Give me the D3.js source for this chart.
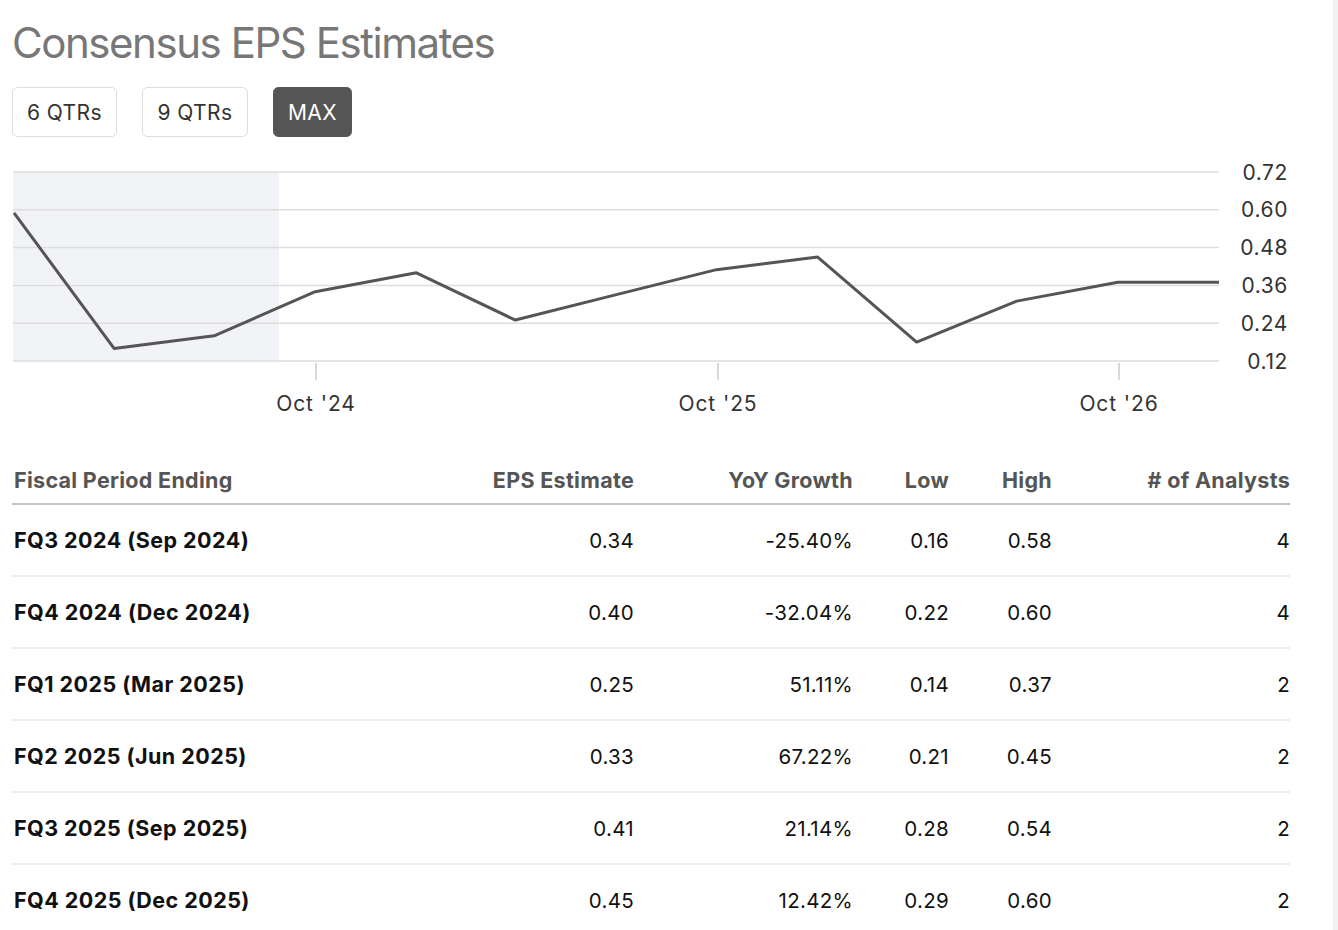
<!DOCTYPE html>
<html>
<head>
<meta charset="utf-8">
<script src="https://cdn.jsdelivr.net/npm/d3@7"></script>
<style>
  html, body { margin: 0; padding: 0; background: #fff; overflow: hidden; }
  svg { display: block; font-family: Inter, "Noto Sans", sans-serif; }
</style>
</head>
<body>
<div id="chart"></div>
<script>
// quarter-end dates plotted on the line
const quarterEnds = ["2023-12-31", "2024-03-31", "2024-06-30", "2024-09-30", "2024-12-31",
  "2025-03-31", "2025-06-30", "2025-09-30", "2025-12-31", "2026-03-31",
  "2026-06-30", "2026-09-30", "2026-12-31"];
const epsSeries = [0.59, 0.16, 0.20, 0.34, 0.40, 0.25, 0.33, 0.41, 0.45, 0.18, 0.31, 0.37, 0.37];
const reportedUntil = "2024-08-28";   // end of the shaded (already reported) zone
const yTicks = [0.12, 0.24, 0.36, 0.48, 0.60, 0.72];
const xTicks = ["2024-10-01", "2025-10-01", "2026-10-01"];
const rangeButtons = ["6 QTRs", "9 QTRs", "MAX"];

// table
const tableHeaders = ["Fiscal Period Ending", "EPS Estimate", "YoY Growth", "Low", "High", "# of Analysts"];
const fiscalPeriods = ["FQ3 2024 (Sep 2024)", "FQ4 2024 (Dec 2024)", "FQ1 2025 (Mar 2025)",
  "FQ2 2025 (Jun 2025)", "FQ3 2025 (Sep 2025)", "FQ4 2025 (Dec 2025)"];
const epsEstimates = ["0.34", "0.40", "0.25", "0.33", "0.41", "0.45"];
const yoyGrowth = ["-25.40%", "-32.04%", "51.11%", "67.22%", "21.14%", "12.42%"];
const lows = ["0.16", "0.22", "0.14", "0.21", "0.28", "0.29"];
const highs = ["0.58", "0.60", "0.37", "0.45", "0.54", "0.60"];
const analysts = ["4", "4", "2", "2", "2", "2"];

const W = 1338, H = 930;
const parse = d3.utcParse("%Y-%m-%d");

const svg = d3.select("#chart").append("svg")
    .attr("width", W)
    .attr("height", H);

// scrollbar strip on the right
svg.append("rect")
    .attr("x", 1333).attr("y", 0).attr("width", 5).attr("height", H)
    .attr("fill", "#f3f1ef");

// title
svg.append("text")
    .attr("x", 12).attr("y", 58)
    .attr("font-size", 42)
    .attr("fill", "#777")
    .attr("letter-spacing", -1.45)
    .text("Consensus EPS Estimates");

// range buttons
const btnX = [12.5, 142.5, 273.5], btnW = [104, 105, 78];
const btn = svg.selectAll("g.btn")
  .data(rangeButtons)
  .join("g")
    .attr("class", "btn")
    .attr("transform", (d, i) => `translate(${btnX[i]},87.5)`);

btn.append("rect")
    .attr("width", (d, i) => btnW[i])
    .attr("height", 49)
    .attr("rx", 5)
    .attr("fill", d => d === "MAX" ? "#555" : "#fff")
    .attr("stroke", d => d === "MAX" ? "#555" : "#ddd");

btn.append("text")
    .attr("x", (d, i) => btnW[i] / 2)
    .attr("y", 32)
    .attr("text-anchor", "middle")
    .attr("font-size", 21)
    .attr("letter-spacing", 0.4)
    .attr("fill", d => d === "MAX" ? "#fff" : "#333")
    .text(d => d);

// line chart
const x = d3.scaleUtc()
    .domain([parse(quarterEnds[0]), parse(quarterEnds[quarterEnds.length - 1])])
    .range([14, 1219]);

const y = d3.scaleLinear()
    .domain([0.12, 0.72])
    .range([361, 172]);

svg.append("rect")
    .attr("x", 13)
    .attr("y", y(0.72))
    .attr("width", x(parse(reportedUntil)) - 13)
    .attr("height", y(0.12) - y(0.72))
    .attr("fill", "#f2f3f7");

svg.append("g")
  .selectAll("line")
  .data(yTicks)
  .join("line")
    .attr("x1", 13).attr("x2", 1219)
    .attr("y1", d => y(d)).attr("y2", d => y(d))
    .attr("stroke", "#ddd")
    .attr("stroke-width", 1.5);

svg.append("g")
  .selectAll("text")
  .data(yTicks)
  .join("text")
    .attr("x", 1288)
    .attr("y", d => y(d) + 7.5)
    .attr("text-anchor", "end")
    .attr("font-size", 21)
    .attr("letter-spacing", 0.6)
    .attr("fill", "#333")
    .text(d => d3.format(".2f")(d));

const xt = svg.append("g")
  .selectAll("g")
  .data(xTicks.map(parse))
  .join("g")
    .attr("transform", d => `translate(${Math.round(x(d))},0)`);

xt.append("line")
    .attr("y1", 363).attr("y2", 380)
    .attr("stroke", "#ccc")
    .attr("stroke-width", 1.5);

xt.append("text")
    .attr("y", 411)
    .attr("text-anchor", "middle")
    .attr("font-size", 21)
    .attr("letter-spacing", 0.9)
    .attr("fill", "#333")
    .text(d3.utcFormat("%b '%y"));

const line = d3.line()
    .x((d, i) => x(parse(quarterEnds[i])))
    .y(d => y(d));

svg.append("path")
    .datum(epsSeries)
    .attr("d", line)
    .attr("fill", "none")
    .attr("stroke", "#555")
    .attr("stroke-width", 3)
    .attr("stroke-linejoin", "round");

// table
const colX = [14, 634, 853, 949, 1052, 1290];
const colAnchor = ["start", "end", "end", "end", "end", "end"];
const rowH = 72, headerBase = 488, firstBase = 548;

svg.append("g")
  .selectAll("text")
  .data(tableHeaders)
  .join("text")
    .attr("x", (d, i) => colX[i])
    .attr("y", headerBase)
    .attr("text-anchor", (d, i) => colAnchor[i])
    .attr("font-size", 21.5)
    .attr("letter-spacing", 0.3)
    .attr("font-weight", 700)
    .attr("fill", "#555")
    .text(d => d);

svg.append("line")
    .attr("x1", 12).attr("x2", 1290)
    .attr("y1", 504).attr("y2", 504)
    .attr("stroke", "#888")
    .attr("stroke-width", 1.2);

const rows = fiscalPeriods.map((p, i) => [p, epsEstimates[i], yoyGrowth[i], lows[i], highs[i], analysts[i]]);

const row = svg.append("g")
  .selectAll("g")
  .data(rows)
  .join("g")
    .attr("transform", (d, i) => `translate(0,${firstBase + i * rowH})`);

row.selectAll("text")
  .data(d => d)
  .join("text")
    .attr("x", (d, i) => colX[i])
    .attr("text-anchor", (d, i) => colAnchor[i])
    .attr("font-size", (d, i) => i === 0 ? 21.5 : 20.5)
    .attr("letter-spacing", (d, i) => i === 0 ? 0.45 : 0.3)
    .attr("font-weight", (d, i) => i === 0 ? 700 : 400)
    .attr("fill", "#111")
    .text(d => d);

row.filter((d, i) => i < rows.length - 1)
  .append("line")
    .attr("x1", 12).attr("x2", 1290)
    .attr("y1", 28).attr("y2", 28)
    .attr("stroke", "#ddd")
    .attr("stroke-width", 1.2);
</script>
</body>
</html>
